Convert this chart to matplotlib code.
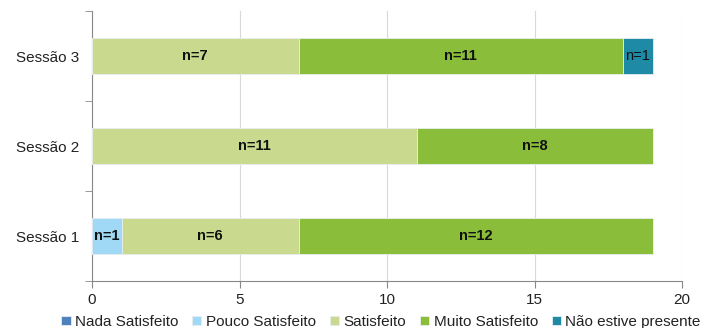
import matplotlib.pyplot as plt
import numpy as np

plt.rcParams["font.family"] = ["Liberation Sans", "DejaVu Sans"]

sessions = ["Sessão 1", "Sessão 2", "Sessão 3"]
categories = ["Nada Satisfeito", "Pouco Satisfeito", "Satisfeito",
              "Muito Satisfeito", "Não estive presente"]
colors = ["#4f81bd", "#9fd9f5", "#c9da8f", "#8abd3a", "#1f8aa6"]

# counts per session (rows follow `sessions`, columns follow `categories`)
nada = [0, 0, 0]
pouco = [1, 0, 0]
satisfeito = [6, 11, 7]
muito = [12, 8, 11]
nao_presente = [0, 0, 1]
series = [nada, pouco, satisfeito, muito, nao_presente]
bold_labels = [True, True, True, True, False]

fig = plt.figure(figsize=(7.01, 3.28), dpi=100)
ax = fig.add_axes([92 / 701, 47 / 328, 590 / 701, 270 / 328])

y = np.arange(len(sessions))
left = np.zeros(len(sessions))
for name, vals, col, bold in zip(categories, series, colors, bold_labels):
    vals = np.array(vals, dtype=float)
    ax.barh(y, vals, left=left, height=0.4, color=col, edgecolor="#e8eef0",
            linewidth=0.6, label=name, zorder=3)
    for yi, (l, v) in enumerate(zip(left, vals)):
        if v > 0:
            ax.text(l + v / 2, yi, f"n={int(v)}", ha="center", va="center",
                    fontsize=10.5, fontweight="bold" if bold else "normal",
                    color="#111111", zorder=4)
    left += vals

ax.set_xlim(0, 20)
ax.set_ylim(-0.5, 2.5)
ax.set_xticks([0, 5, 10, 15, 20])
ax.set_yticks(y)
ax.set_yticklabels(sessions)
ax.set_yticks([-0.5, 0.5, 1.5, 2.5], minor=True)
ax.tick_params(axis="y", which="major", length=0, pad=9, labelsize=11,
               labelcolor="#222222")
ax.tick_params(axis="y", which="minor", length=5, color="#888888")
ax.tick_params(axis="x", length=5, color="#888888", labelsize=11,
               labelcolor="#222222", pad=4)

ax.grid(axis="x", color="#d9d9d9", linewidth=0.8, zorder=0)
for side in ["top", "right"]:
    ax.spines[side].set_visible(False)
for side in ["left", "bottom"]:
    ax.spines[side].set_color("#888888")
    ax.spines[side].set_linewidth(0.8)

ax.legend(loc="lower center", bbox_to_anchor=(0.49, -0.2), ncol=5,
          frameon=False, fontsize=11, handlelength=0.6, handleheight=0.6,
          handletextpad=0.3, columnspacing=0.9, borderaxespad=0,
          labelcolor="#222222", bbox_transform=ax.transAxes)

fig.savefig("out.png", dpi=100)
